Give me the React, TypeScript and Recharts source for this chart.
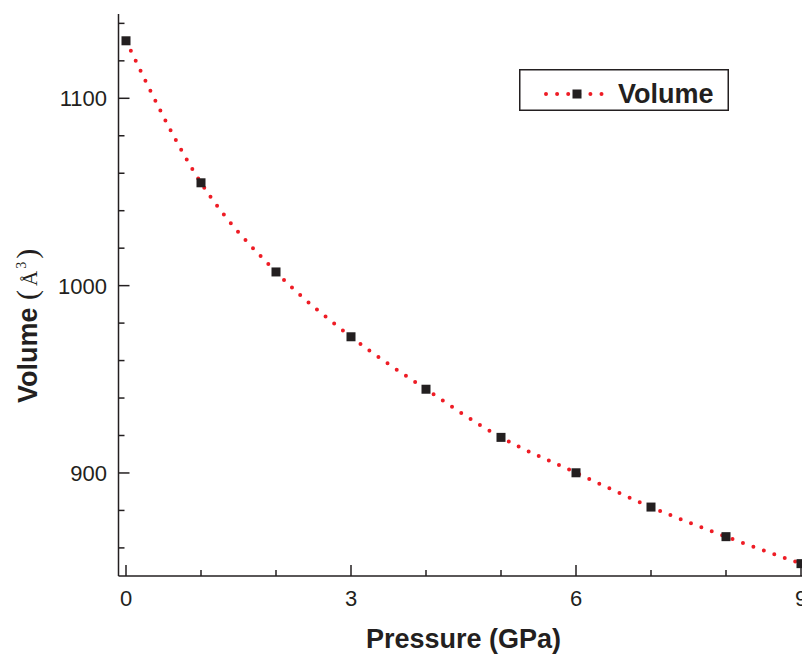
import React from 'react';
import { LineChart, Line, XAxis, YAxis, Legend } from 'recharts';

const pressure = [0, 1, 2, 3, 4, 5, 6, 7, 8, 9];
const volume = [1130.7, 1054.9, 1007.3, 972.7, 944.7, 919.0, 900.1, 881.8, 866.0, 851.6];

const xTicks = [0, 1, 2, 3, 4, 5, 6, 7, 8, 9];
const xMajor = [0, 3, 6, 9];
const yTicks = [860, 880, 900, 920, 940, 960, 980, 1000, 1020, 1040, 1060, 1080, 1100, 1120, 1140];
const yMajor = [900, 1000, 1100];
const xDomain = [-0.1, 9.1];
const yDomain = [845, 1145];

const seriesName = 'Volume';
const xTitle = 'Pressure (GPa)';

const data = pressure.map((p, i) => ({ p, v: volume[i] }));

const INK = '#231f20';
const RED = '#ee1c25';
const SANS = '"Liberation Sans", Arial, sans-serif';
const SERIF = '"Liberation Serif", "Times New Roman", serif';
const MAJOR_LEN = 11;
const MINOR_LEN = 6;

const BottomTick = (props: any) => {
  const { x, y, payload } = props;
  const major = xMajor.includes(payload.value);
  return (
    <g>
      <line x1={x} x2={x} y1={y} y2={y - (major ? MAJOR_LEN : MINOR_LEN)} stroke={INK} strokeWidth={1.5} />
      {major && (
        <text x={x} y={y + 30} textAnchor="middle" fontFamily={SANS} fontSize={22} fill={INK}>
          {payload.value}
        </text>
      )}
    </g>
  );
};

const TopTick = (props: any) => {
  const { x, y, payload } = props;
  const major = xMajor.includes(payload.value);
  return (
    <line x1={x} x2={x} y1={y} y2={y + (major ? MAJOR_LEN : MINOR_LEN)} stroke={INK} strokeWidth={1.5} />
  );
};

const LeftTick = (props: any) => {
  const { x, y, payload } = props;
  const major = yMajor.includes(payload.value);
  return (
    <g>
      <line x1={x} x2={x + (major ? MAJOR_LEN : MINOR_LEN)} y1={y} y2={y} stroke={INK} strokeWidth={1.5} />
      {major && (
        <text x={x - 11.5} y={y + 8} textAnchor="end" fontFamily={SANS} fontSize={22} fill={INK}>
          {payload.value}
        </text>
      )}
    </g>
  );
};

const RightTick = (props: any) => {
  const { x, y, payload } = props;
  const major = yMajor.includes(payload.value);
  return (
    <line x1={x} x2={x - (major ? MAJOR_LEN : MINOR_LEN)} y1={y} y2={y} stroke={INK} strokeWidth={1.5} />
  );
};

const SquareDot = (props: any) => {
  const { cx, cy, index } = props;
  if (cx == null || cy == null) return null;
  return <rect key={`dot-${index}`} x={cx - 4.5} y={cy - 4.5} width={9} height={9} fill={INK} />;
};

const XTitle = (props: any) => {
  const vb = props.viewBox || {};
  const cx = (vb.x || 0) + (vb.width || 0) / 2;
  return (
    <text x={cx} y={(vb.y || 0) + 72} textAnchor="middle" fontFamily={SANS} fontWeight="bold" fontSize={27} fill={INK}>
      {xTitle}
    </text>
  );
};

const YTitle = () => (
  <text transform="translate(37,403) rotate(-90)" x={0} y={0} textAnchor="start" fill={INK}>
    <tspan fontFamily={SANS} fontWeight="bold" fontSize={27}>{seriesName}</tspan>
    <tspan fontFamily={SERIF} fontSize={30}>{' ('}</tspan>
    <tspan fontFamily={SERIF} fontSize={21} dx={4}>Å</tspan>
    <tspan fontFamily={SERIF} fontSize={14} dx={2} dy={-11}>3</tspan>
    <tspan fontFamily={SERIF} fontSize={30} dx={3} dy={11}>)</tspan>
  </text>
);

const LegendBox = (props: any) => {
  const entry = (props.payload && props.payload[0]) || {};
  return (
    <svg width={210} height={42} style={{ display: 'block' }}>
      <rect x={0.75} y={0.75} width={208.5} height={40.5} fill="#fff" stroke={INK} strokeWidth={1.5} />
      <line x1={27} x2={88} y1={25} y2={25} stroke={RED} strokeWidth={4} strokeLinecap="round" strokeDasharray="0 11.1" />
      <rect x={53.5} y={20.5} width={9} height={9} fill={INK} />
      <text x={99} y={34} fontFamily={SANS} fontWeight="bold" fontSize={27} fill={INK}>
        {entry.value || seriesName}
      </text>
    </svg>
  );
};

export default function App() {
  return (
    <div style={{ position: 'fixed', left: 0, top: 0, width: 802, height: 657, overflow: 'hidden', background: '#fff' }}>
      <LineChart width={840} height={657} data={data} margin={{ top: 14, right: 31.5, bottom: 0, left: 0 }}>
        <XAxis
          dataKey="p"
          type="number"
          domain={xDomain}
          allowDataOverflow
          ticks={xTicks}
          interval={0}
          tick={<BottomTick />}
          tickLine={false}
          tickSize={0}
          tickMargin={0}
          axisLine={{ stroke: INK, strokeWidth: 1.5 }}
          height={81}
          label={<XTitle />}
        />
        <XAxis
          xAxisId="top"
          orientation="top"
          dataKey="p"
          type="number"
          domain={xDomain}
          allowDataOverflow
          ticks={xTicks}
          interval={0}
          tick={<TopTick />}
          tickLine={false}
          tickSize={0}
          tickMargin={0}
          axisLine={{ stroke: INK, strokeWidth: 1.5 }}
          height={0}
        />
        <YAxis
          type="number"
          domain={yDomain}
          allowDataOverflow
          ticks={yTicks}
          interval={0}
          tick={<LeftTick />}
          tickLine={false}
          tickSize={0}
          tickMargin={0}
          axisLine={{ stroke: INK, strokeWidth: 1.5 }}
          width={118.5}
          label={<YTitle />}
        />
        <YAxis
          yAxisId="right"
          orientation="right"
          type="number"
          domain={yDomain}
          allowDataOverflow
          ticks={yTicks}
          interval={0}
          tick={<RightTick />}
          tickLine={false}
          tickSize={0}
          tickMargin={0}
          axisLine={{ stroke: INK, strokeWidth: 1.5 }}
          width={0}
        />
        <Legend
          layout="horizontal"
          align="center"
          verticalAlign="middle"
          wrapperStyle={{ left: 519, top: 69, width: 210, height: 42 }}
          content={<LegendBox />}
        />
        <Line
          type="monotone"
          dataKey="v"
          name={seriesName}
          stroke={RED}
          strokeWidth={4}
          strokeLinecap="round"
          strokeDasharray="0 11.1"
          dot={<SquareDot />}
          activeDot={false}
          isAnimationActive={false}
        />
      </LineChart>
    </div>
  );
}
